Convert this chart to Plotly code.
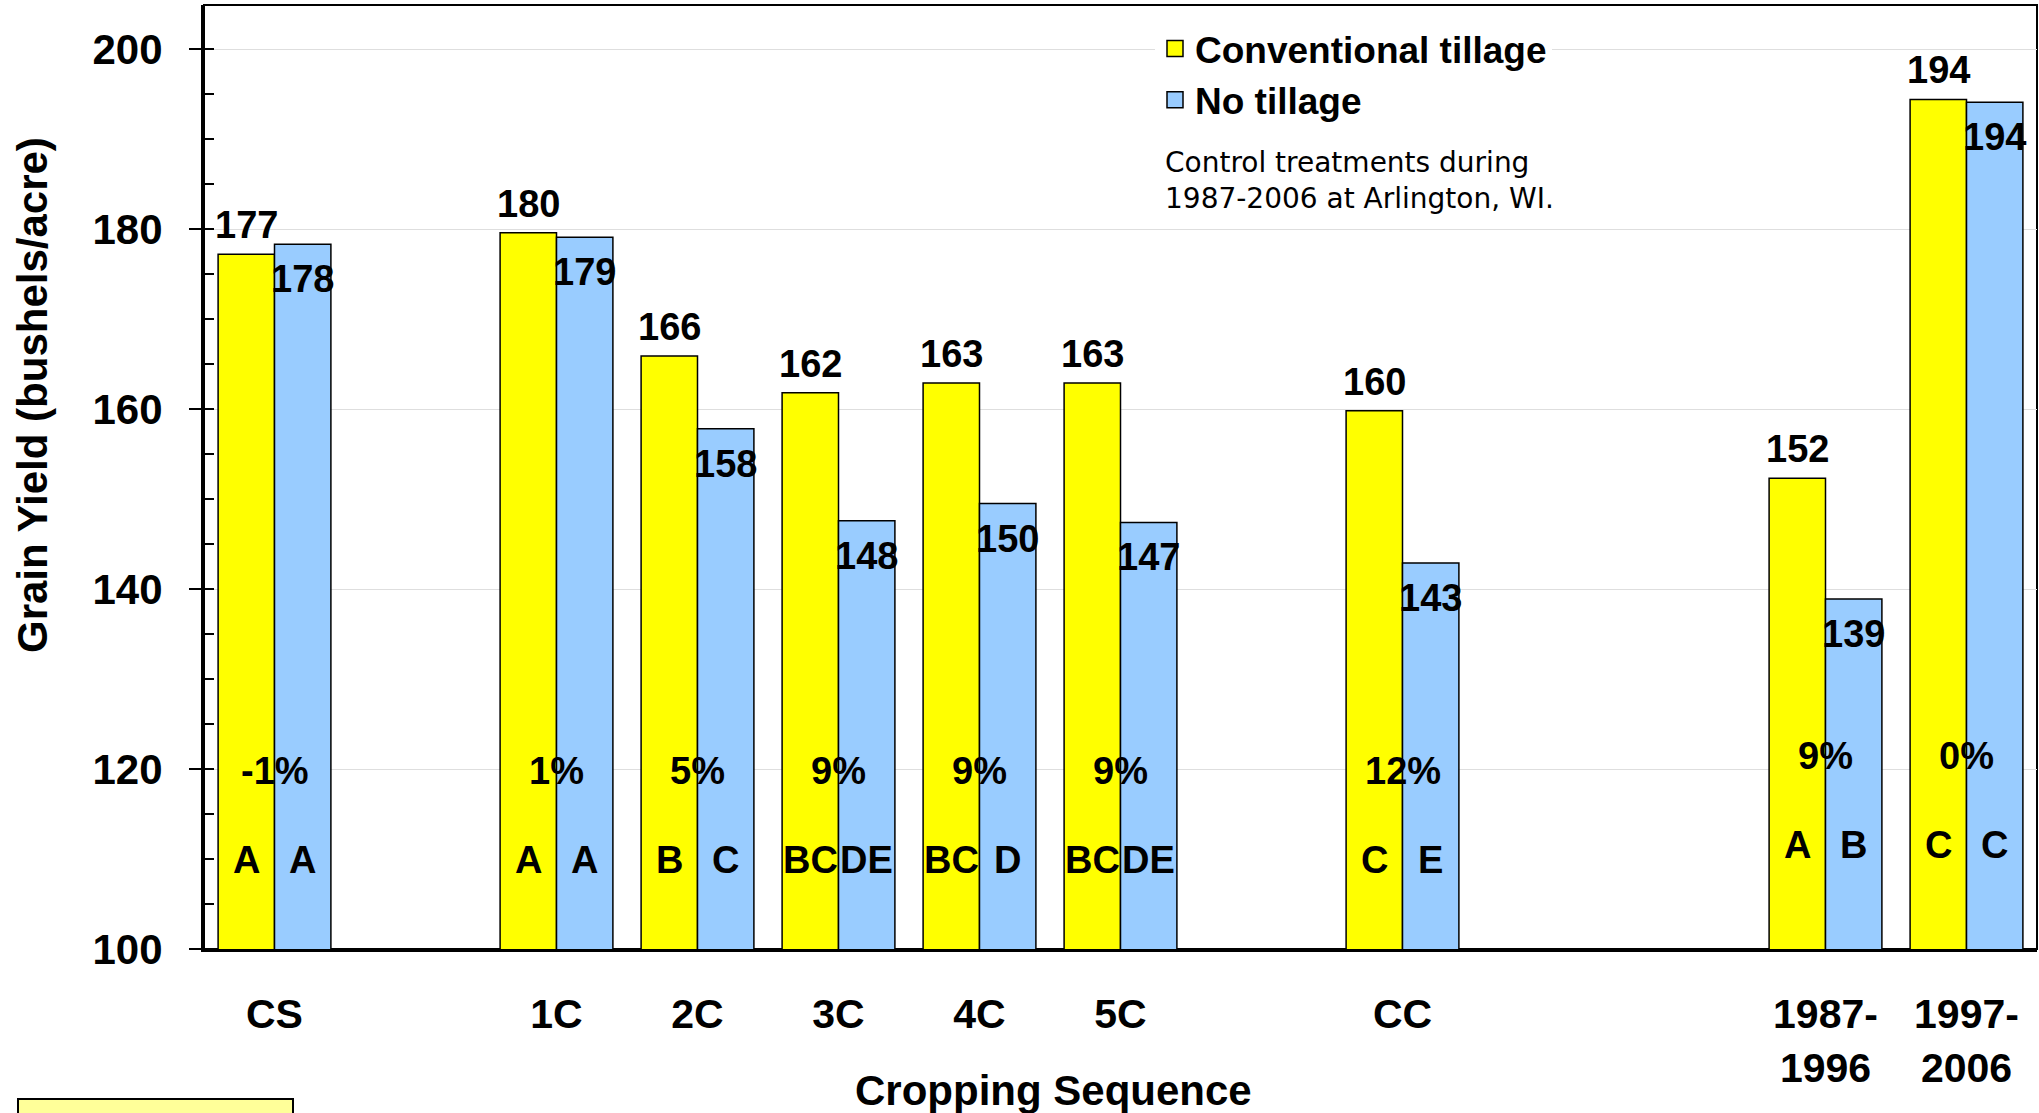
import plotly.graph_objects as go

# Cropping sequences (and the two decade summaries)
sequences = ["CS", "1C", "2C", "3C", "4C", "5C", "CC", "1987-1996", "1997-2006"]
sequence_ticktext = ["CS", "1C", "2C", "3C", "4C", "5C", "CC", "1987-<br>1996", "1997-<br>2006"]

# Grain yield (bushels/acre)
conventional = [177.2, 179.6, 165.9, 161.8, 162.9, 162.9, 159.8, 152.3, 194.4]
no_tillage = [178.3, 179.1, 157.8, 147.6, 149.5, 147.4, 142.9, 138.9, 194.1]

# Yield advantage of conventional tillage over no tillage
yield_diff = ["-1%", "1%", "5%", "9%", "9%", "9%", "12%", "9%", "0%"]

# Mean separation letters
conventional_letters = ["A", "A", "B", "BC", "BC", "BC", "C", "A", "C"]
no_tillage_letters = ["A", "A", "C", "DE", "D", "DE", "E", "B", "C"]

# Axis slots: empty slots leave the gaps between sequence families
axis_slots = ["CS", "_g1", "1C", "2C", "3C", "4C", "5C", "_g2", "CC", "_g3", "_g4",
              "1987-1996", "1997-2006"]

W, H = 2039, 1113
ML, MR, MT, MB = 204, 2, 5, 164
PW = W - ML - MR
PH = H - MT - MB
SLOT_PX = PW / len(axis_slots)
BAR_OFF = 0.2 * SLOT_PX

SANS = "Liberation Sans, Arial"
YELLOW = "#FFFF00"
BLUE = "#99CCFF"
bar_line = dict(color="black", width=1.5)

fig = go.Figure()
fig.add_trace(go.Bar(
    name="Conventional tillage", x=sequences, y=conventional, showlegend=False,
    marker=dict(color=YELLOW, line=bar_line),
))
fig.add_trace(go.Bar(
    name="No tillage", x=sequences, y=no_tillage, showlegend=False,
    marker=dict(color=BLUE, line=bar_line),
))
# legend entries with larger square swatches
for name, color in [("Conventional tillage", YELLOW), ("No tillage", BLUE)]:
    fig.add_trace(go.Scatter(
        name=name, x=[None], y=[None], mode="markers", hoverinfo="skip",
        marker=dict(symbol="square", size=16, color=color, line=dict(color="black", width=1.5)),
    ))

annotations = []
label_font = dict(family=SANS, size=38, color="black", weight="bold")
for i, seq in enumerate(sequences):
    # value labels: above the conventional bar, inside the top of the no-till bar
    annotations.append(dict(x=seq, y=conventional[i], text=f"{conventional[i]:.0f}",
                            xref="x", yref="y", showarrow=False, xshift=-BAR_OFF,
                            yanchor="bottom", yshift=6, font=label_font))
    annotations.append(dict(x=seq, y=no_tillage[i], text=f"{no_tillage[i]:.0f}",
                            xref="x", yref="y", showarrow=False, xshift=BAR_OFF,
                            yanchor="top", yshift=-12, font=label_font))
    raised = 1.7 if seq.startswith("19") else 0.0
    annotations.append(dict(x=seq, y=119.8 + raised, text=yield_diff[i],
                            xref="x", yref="y", showarrow=False,
                            yanchor="middle", font=label_font))
    annotations.append(dict(x=seq, y=109.9 + raised, text=conventional_letters[i],
                            xref="x", yref="y", showarrow=False, xshift=-BAR_OFF,
                            yanchor="middle", font=label_font))
    annotations.append(dict(x=seq, y=109.9 + raised, text=no_tillage_letters[i],
                            xref="x", yref="y", showarrow=False, xshift=BAR_OFF,
                            yanchor="middle", font=label_font))

# Axis titles
annotations.append(dict(text="Grain Yield (bushels/acre)", textangle=-90,
                        xref="paper", yref="paper", x=(32 - ML) / PW, y=(H - MB - 395) / PH,
                        xanchor="center", yanchor="middle", showarrow=False,
                        font=dict(family=SANS, size=42, color="black", weight="bold")))
annotations.append(dict(text="Cropping Sequence",
                        xref="paper", yref="paper", x=(1053 - ML) / PW, y=(H - MB - 1090) / PH,
                        xanchor="center", yanchor="middle", showarrow=False,
                        font=dict(family=SANS, size=42, color="black", weight="bold")))
# Site note
annotations.append(dict(text="Control treatments during<br>1987-2006 at Arlington, WI.",
                        xref="paper", yref="paper", x=(1163 - ML) / PW, y=(H - MB - 180) / PH,
                        xanchor="left", yanchor="middle", align="left", showarrow=False,
                        font=dict(family="DejaVu Sans", size=28, color="black")))

shapes = [
    # frame around the plotting area
    dict(type="rect", xref="paper", yref="paper", x0=0, x1=1, y0=0, y1=1,
         line=dict(color="black", width=2), layer="below"),
    # highlight box in the lower left corner
    dict(type="rect", xref="paper", yref="paper",
         x0=(18 - ML) / PW, x1=(293 - ML) / PW,
         y0=(H - MB - 1125) / PH, y1=(H - MB - 1099) / PH,
         fillcolor="#FFFF99", line=dict(color="black", width=2)),
]

fig.update_layout(
    width=W, height=H,
    margin=dict(l=ML, r=MR, t=MT, b=MB, autoexpand=False),
    paper_bgcolor="white", plot_bgcolor="white",
    barmode="group", bargap=0.2, bargroupgap=0,
    showlegend=True,
    legend=dict(x=(1155 - ML) / PW, y=(H - MB - 18) / PH, xanchor="left", yanchor="top",
                bgcolor="white", borderwidth=0, itemsizing="trace",
                font=dict(family=SANS, size=37, color="black", weight="bold"),
                itemwidth=30, tracegroupgap=0),
    annotations=annotations,
    shapes=shapes,
)

fig.update_xaxes(
    type="category", categoryorder="array", categoryarray=axis_slots,
    range=[-0.5, len(axis_slots) - 0.5],
    tickvals=sequences, ticktext=sequence_ticktext,
    ticks="", showgrid=False,
    showline=True, linecolor="black", linewidth=3,
    tickfont=dict(family=SANS, size=41, color="black", weight="bold"),
    ticklabelstandoff=27,
)
fig.update_yaxes(
    range=[100, 204.9], tickvals=[100, 120, 140, 160, 180, 200],
    ticks="outside", ticklen=12, tickwidth=2, tickcolor="black",
    minor=dict(dtick=5, ticks="inside", ticklen=10, tickwidth=2, tickcolor="black",
               showgrid=False),
    showgrid=True, gridcolor="#dedede", gridwidth=1,
    showline=True, linecolor="black", linewidth=3,
    tickfont=dict(family=SANS, size=42, color="black", weight="bold"),
    ticklabelstandoff=18, zeroline=False,
)

fig.write_html("out.html")
